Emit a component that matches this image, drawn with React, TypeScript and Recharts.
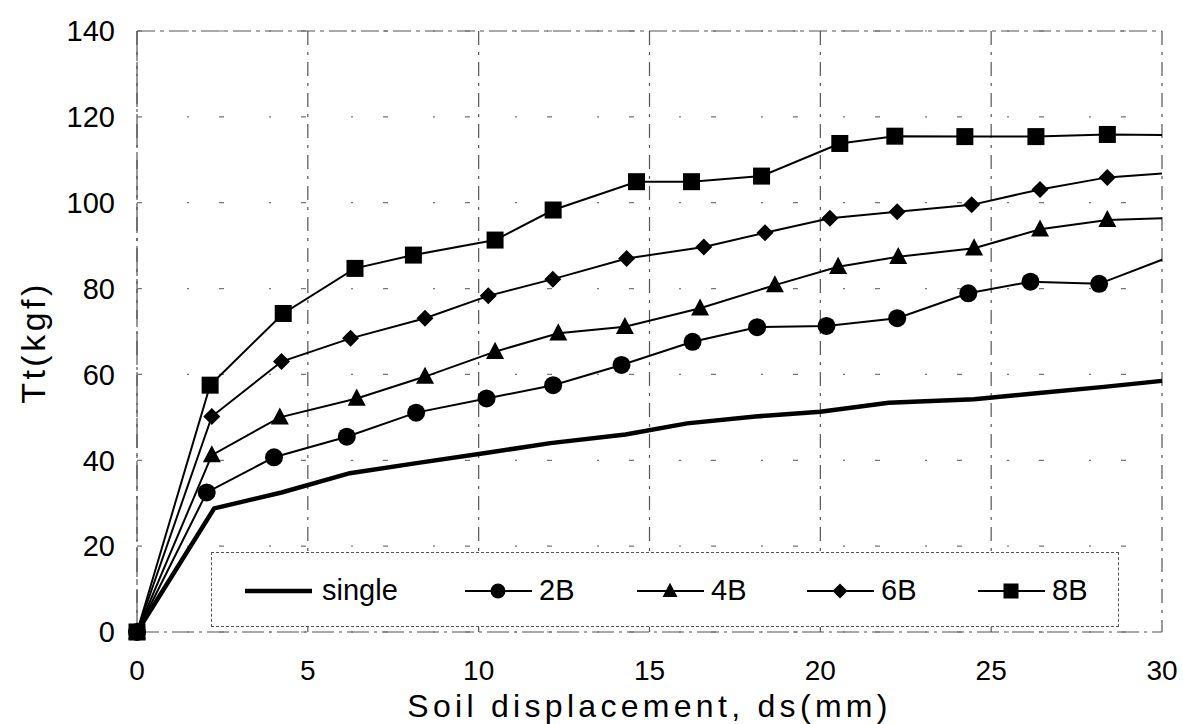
import React from "react";
import {
  LineChart,
  Line,
  XAxis,
  YAxis,
  CartesianGrid,
  Legend,
  ReferenceLine,
} from "recharts";

// axis ticks
const xTicks = [0, 5, 10, 15, 20, 25, 30];
const yTicks = [0, 20, 40, 60, 80, 100, 120, 140];

// soil displacement ds (mm) and pull force Tt (kgf)
const singleX = [0, 2.26, 4.23, 6.23, 8.23, 10.3, 12.1, 14.3, 16.1, 18.1, 20.0, 22.0, 24.5, 26.4, 28.3, 30];
const singleY = [0, 28.8, 32.5, 37.0, 39.4, 41.8, 44.0, 46.0, 48.6, 50.2, 51.3, 53.4, 54.2, 55.7, 57.1, 58.5];

const b2X = [0, 2.04, 4.01, 6.14, 8.17, 10.23, 12.18, 14.18, 16.26, 18.15, 20.18, 22.25, 24.33, 26.15, 28.16, 30];
const b2Y = [0, 32.5, 40.7, 45.5, 51.1, 54.4, 57.5, 62.2, 67.6, 71.0, 71.3, 73.1, 78.9, 81.6, 81.1, 86.7];

const b4X = [0, 2.19, 4.18, 6.43, 8.43, 10.48, 12.33, 14.28, 16.48, 18.67, 20.52, 22.28, 24.5, 26.43, 28.4, 30];
const b4Y = [0, 41.2, 50.0, 54.4, 59.5, 65.3, 69.6, 71.1, 75.4, 80.8, 85.1, 87.4, 89.4, 93.8, 96.0, 96.4];

const b6X = [0, 2.19, 4.23, 6.25, 8.43, 10.28, 12.17, 14.33, 16.59, 18.38, 20.28, 22.25, 24.43, 26.43, 28.4, 30];
const b6Y = [0, 50.2, 63.0, 68.4, 73.1, 78.3, 82.2, 87.0, 89.7, 93.0, 96.4, 97.9, 99.5, 103.1, 105.9, 106.8];

const b8X = [0, 2.14, 4.28, 6.38, 8.09, 10.48, 12.18, 14.62, 16.23, 18.28, 20.57, 22.18, 24.23, 26.31, 28.4, 30];
const b8Y = [0, 57.5, 74.2, 84.7, 87.8, 91.3, 98.3, 104.9, 104.9, 106.2, 113.8, 115.5, 115.4, 115.4, 115.9, 115.8];

const toPoints = (xs: number[], ys: number[]) =>
  xs.map((x, i) => ({ ds: x, tt: ys[i] }));

const FONT = "'Liberation Sans', Arial, sans-serif";

type Shape = "none" | "circle" | "triangle" | "diamond" | "square";

const series: { name: string; data: { ds: number; tt: number }[]; shape: Shape; width: number }[] = [
  { name: "single", data: toPoints(singleX, singleY), shape: "none", width: 4.5 },
  { name: "2B", data: toPoints(b2X, b2Y), shape: "circle", width: 2 },
  { name: "4B", data: toPoints(b4X, b4Y), shape: "triangle", width: 2 },
  { name: "6B", data: toPoints(b6X, b6Y), shape: "diamond", width: 2 },
  { name: "8B", data: toPoints(b8X, b8Y), shape: "square", width: 2 },
];

// left offset of each legend entry inside the legend box
const legendLeft = [33, 253, 425, 595, 766];

const Marker = ({ shape, cx, cy, size }: { shape: Shape; cx: number; cy: number; size: number }) => {
  const h = size / 2;
  if (shape === "circle") return <circle cx={cx} cy={cy} r={h} fill="#000" />;
  if (shape === "square")
    return <rect x={cx - h} y={cy - h} width={size} height={size} fill="#000" />;
  if (shape === "triangle")
    return (
      <polygon
        points={`${cx},${cy - h * 1.1} ${cx + h},${cy + h * 0.8} ${cx - h},${cy + h * 0.8}`}
        fill="#000"
      />
    );
  if (shape === "diamond")
    return (
      <polygon
        points={`${cx},${cy - h} ${cx + h},${cy} ${cx},${cy + h} ${cx - h},${cy}`}
        fill="#000"
      />
    );
  return null;
};

const markerSize: Record<Shape, number> = {
  none: 0,
  circle: 18,
  triangle: 18,
  diamond: 17,
  square: 17,
};

const LegendBox = () => (
  <div
    style={{
      position: "relative",
      width: 908,
      height: 75,
      border: "1.5px dashed #555",
      boxSizing: "border-box",
      background: "#fff",
      fontFamily: FONT,
      fontSize: 29,
      color: "#000",
    }}
  >
    {series.map((s, i) => (
      <div
        key={s.name}
        style={{
          position: "absolute",
          left: legendLeft[i],
          top: 0,
          height: 75,
          display: "flex",
          alignItems: "center",
        }}
      >
        <svg width={67} height={20}>
          <line x1={0} y1={10} x2={67} y2={10} stroke="#000" strokeWidth={s.shape === "none" ? 4.5 : 2} />
          <Marker shape={s.shape} cx={33} cy={10} size={15} />
        </svg>
        <span style={{ marginLeft: s.shape === "none" ? 10 : 7 }}>{s.name}</span>
      </div>
    ))}
  </div>
);

const YLabel = (props: any) => {
  const vb = props.viewBox || { x: 0, y: 0, height: 0 };
  const cx = 33;
  const cy = vb.y + vb.height / 2 + 11;
  return (
    <text
      x={cx}
      y={cy}
      transform={`rotate(-90, ${cx}, ${cy})`}
      textAnchor="middle"
      dominantBaseline="central"
      fill="#000"
      fontSize={34}
      fontFamily={FONT}
      letterSpacing={3.5}
    >
      Tt(kgf)
    </text>
  );
};

export default function App() {
  return (
    <div style={{ position: "absolute", left: 0, top: 0, background: "#fff" }}>
      <LineChart
        width={1183}
        height={724}
        margin={{ top: 31, right: 21, bottom: 0, left: 10 }}
      >
        {/* vertical dash-dot grid */}
        <CartesianGrid
          horizontal={false}
          stroke="#555"
          strokeWidth={1.2}
          strokeDasharray="14 7 3 7"
        />
        {/* sparse horizontal grid */}
        <CartesianGrid
          vertical={false}
          stroke="#777"
          strokeWidth={1.2}
          strokeDasharray="5 45 2 30"
        />
        <ReferenceLine y={140} stroke="#555" strokeWidth={1.2} strokeDasharray="18 5 4 5" />
        <XAxis
          type="number"
          dataKey="ds"
          domain={[0, 30]}
          ticks={xTicks}
          height={92}
          tickLine={false}
          tickSize={0}
          tickMargin={28}
          axisLine={{ stroke: "#555", strokeWidth: 1.2, strokeDasharray: "22 5 3 5" }}
          tick={{ fill: "#000", fontSize: 28, fontFamily: FONT }}
          allowDuplicatedCategory={false}
          label={{
            value: "Soil displacement, ds(mm)",
            position: "insideBottom",
            offset: 7,
            style: { fill: "#000", fontSize: 32, fontFamily: FONT, letterSpacing: 4.3 },
          }}
        />
        <YAxis
          type="number"
          domain={[0, 140]}
          ticks={yTicks}
          width={127}
          tickLine={false}
          tickSize={0}
          tickMargin={22}
          axisLine={{ stroke: "#555", strokeWidth: 1.2, strokeDasharray: "30 5 3 5" }}
          tick={{ fill: "#000", fontSize: 29, fontFamily: FONT }}
          label={<YLabel />}
        />
        <Legend
          layout="horizontal"
          verticalAlign="middle"
          wrapperStyle={{ left: 211, top: 552, width: 908, height: 75 }}
          content={() => <LegendBox />}
        />
        {series.map((s) => (
          <Line
            key={s.name}
            name={s.name}
            data={s.data}
            dataKey="tt"
            type="linear"
            stroke="#000"
            strokeWidth={s.width}
            isAnimationActive={false}
            activeDot={false}
            dot={(props: any) => {
              const last = props.index === s.data.length - 1;
              if (s.shape === "none" || last) return <g key={`${s.name}-${props.index}`} />;
              return (
                <g key={`${s.name}-${props.index}`}>
                  <Marker shape={s.shape} cx={props.cx} cy={props.cy} size={markerSize[s.shape]} />
                </g>
              );
            }}
          />
        ))}
      </LineChart>
    </div>
  );
}
